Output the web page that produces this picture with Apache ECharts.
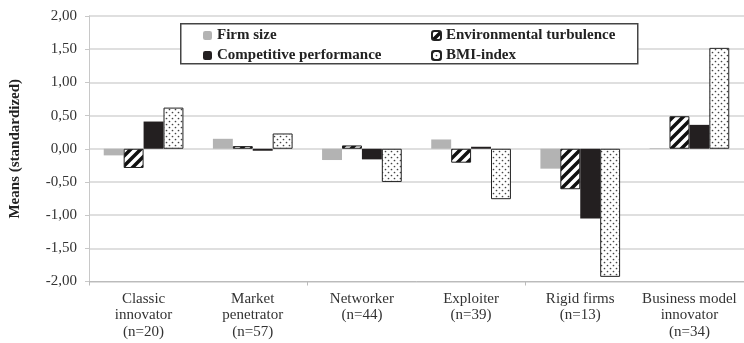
<!DOCTYPE html>
<html>
<head>
<meta charset="utf-8">
<script src="https://cdn.jsdelivr.net/npm/echarts@6/dist/echarts.min.js"></script>
<style>
  html, body { margin: 0; padding: 0; background: #fff; }
  #chart { width: 744px; height: 343px; }
</style>
</head>
<body>
<div id="chart"></div>
<script>
var categories = [
  'Classic\ninnovator\n(n=20)',
  'Market\npenetrator\n(n=57)',
  'Networker\n(n=44)',
  'Exploiter\n(n=39)',
  'Rigid firms\n(n=13)',
  'Business model\ninnovator\n(n=34)'
];
var firmSize = [-0.10, 0.15, -0.17, 0.14, -0.30, 0.01];
var envTurbulence = [-0.29, 0.04, 0.05, -0.21, -0.61, 0.49];
var compPerformance = [0.41, -0.03, -0.16, 0.03, -1.05, 0.36];
var bmiIndex = [0.62, 0.23, -0.50, -0.76, -1.93, 1.52];

var FONT = '"Liberation Serif", "DejaVu Serif", serif';

// diagonal hatch pattern
function hatchPattern() {
  var c = document.createElement('canvas');
  c.width = 10; c.height = 10;
  var ctx = c.getContext('2d');
  ctx.fillStyle = '#fff';
  ctx.fillRect(0, 0, 10, 10);
  ctx.strokeStyle = '#111';
  ctx.lineWidth = 3.5;
  ctx.beginPath();
  ctx.moveTo(-2, 12); ctx.lineTo(12, -2);
  ctx.moveTo(-7, 7); ctx.lineTo(7, -7);
  ctx.moveTo(3, 17); ctx.lineTo(17, 3);
  ctx.stroke();
  return c;
}
// dotted pattern
function dotPattern() {
  var c = document.createElement('canvas');
  c.width = 6; c.height = 6;
  var ctx = c.getContext('2d');
  ctx.fillStyle = '#fff';
  ctx.fillRect(0, 0, 6, 6);
  ctx.fillStyle = '#444';
  ctx.beginPath();
  ctx.arc(1.5, 1.5, 0.85, 0, Math.PI * 2);
  ctx.arc(4.5, 4.5, 0.85, 0, Math.PI * 2);
  ctx.fill();
  return c;
}

var chart = echarts.init(document.getElementById('chart'));
var legendText = { fontFamily: FONT, fontWeight: 'bold', fontSize: 15, color: '#222' };

chart.setOption({
  animation: false,
  grid: { left: 86, top: 16, width: 664, bottom: 61.5 },
  graphic: [{
    type: 'rect', left: 180, top: 23, z: 10,
    shape: { width: 457, height: 40 },
    style: { fill: '#fff', stroke: '#444', lineWidth: 1.5 }
  }],
  legend: [{
    orient: 'vertical', left: 198, top: 23, z: 20,
    itemWidth: 9, itemHeight: 9, itemGap: 5,
    textStyle: legendText,
    data: ['Firm size', 'Competitive performance']
  }, {
    orient: 'vertical', left: 426, top: 23, z: 20,
    itemWidth: 9, itemHeight: 9, itemGap: 5,
    textStyle: legendText,
    data: ['Environmental turbulence', 'BMI-index']
  }],
  xAxis: [{
    type: 'category',
    position: 'bottom',
    data: categories,
    axisLine: { show: false },
    axisTick: { show: false },
    axisLabel: { fontFamily: FONT, fontSize: 15, color: '#333', lineHeight: 16.5, margin: 9, interval: 0 }
  }, {
    type: 'category',
    position: 'bottom',
    data: categories,
    axisLine: { onZero: true, lineStyle: { color: '#bbb', width: 1 } },
    axisTick: { show: true, length: 4, lineStyle: { color: '#bbb' } },
    axisLabel: { show: false }
  }],
  yAxis: {
    type: 'value',
    min: -2, max: 2, interval: 0.5,
    name: 'Means (standardized)',
    nameLocation: 'middle',
    nameGap: 66,
    nameTextStyle: { fontFamily: FONT, fontWeight: 'bold', fontSize: 15, color: '#222' },
    axisLine: { show: true, lineStyle: { color: '#c8c8c8' } },
    axisTick: { show: true, length: 4, lineStyle: { color: '#c8c8c8' } },
    splitLine: { lineStyle: { color: '#d4d4d4', width: 1.5 } },
    axisLabel: {
      fontFamily: FONT, fontSize: 15, color: '#333', margin: 12,
      formatter: function (v) { return v.toFixed(2).replace('.', ','); }
    }
  },
  series: [{
    name: 'Firm size', type: 'bar', data: firmSize,
    barGap: '0%', barCategoryGap: '27%',
    itemStyle: { color: '#b3b3b3' }
  }, {
    name: 'Environmental turbulence', type: 'bar', data: envTurbulence,
    itemStyle: { color: { image: hatchPattern(), repeat: 'repeat' }, borderColor: '#222', borderWidth: 1 }
  }, {
    name: 'Competitive performance', type: 'bar', data: compPerformance,
    itemStyle: { color: '#231f20' }
  }, {
    name: 'BMI-index', type: 'bar', data: bmiIndex,
    itemStyle: { color: { image: dotPattern(), repeat: 'repeat' }, borderColor: '#222', borderWidth: 1 }
  }]
});
</script>
</body>
</html>
